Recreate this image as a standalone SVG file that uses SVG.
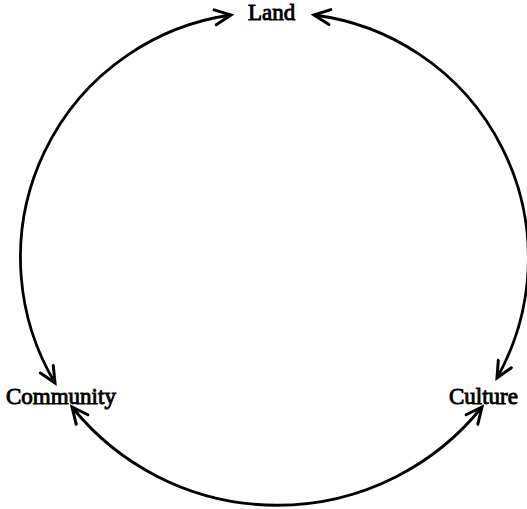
<svg xmlns="http://www.w3.org/2000/svg" width="527" height="509" viewBox="0 0 527 509">
  <style>
    .lbl { font-family: "Liberation Serif", "Times New Roman", serif; font-size: 23px; fill: #000; stroke: #000; stroke-width: 0.9px; }
    .arc { fill: none; stroke: #000; stroke-width: 2.8px; }
  </style>
  <defs>
    <marker id="ah" markerUnits="userSpaceOnUse" markerWidth="40" markerHeight="40" viewBox="-20 -20 40 40" refX="0" refY="0" orient="auto-start-reverse" overflow="visible">
      <path d="M -16 -7.5 L 0 0 L -16 7.5" fill="none" stroke="#000" stroke-width="3" stroke-linejoin="miter" stroke-linecap="round"/>
    </marker>
  </defs>
  <rect width="527" height="509" fill="#fff"/>
  <g id="connectors">
    <path class="arc" d="M 55 383 A 245 245 0 0 1 231 15" marker-start="url(#ah)" marker-end="url(#ah)"/>
    <path class="arc" d="M 314 15 A 245 245 0 0 1 497 378" marker-start="url(#ah)" marker-end="url(#ah)"/>
    <path class="arc" d="M 72 407 A 263 263 0 0 0 482 407" marker-start="url(#ah)" marker-end="url(#ah)"/>
  </g>
  <g id="land"><text class="lbl" x="248" y="20">Land</text></g>
  <g id="community"><text class="lbl" x="6" y="404">Community</text></g>
  <g id="culture"><text class="lbl" x="449" y="404">Culture</text></g>
</svg>
